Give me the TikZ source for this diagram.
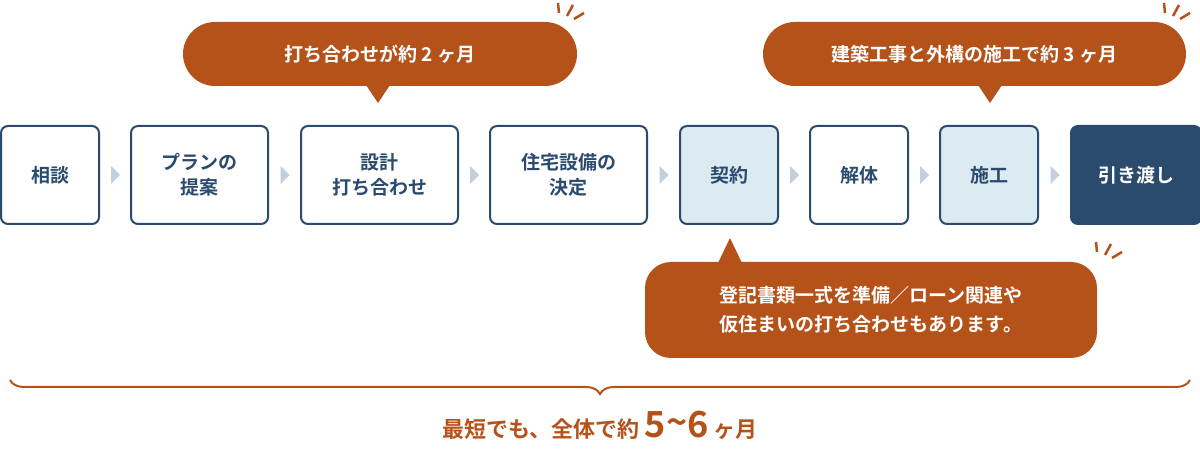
\documentclass[tikz,border=0pt]{standalone}
\usepackage{fontspec}
\setmainfont{Noto Sans CJK JP Bold}
\usetikzlibrary{positioning,calc,decorations.pathreplacing}
\definecolor{navy}{HTML}{2B4B6E}
\definecolor{paleblue}{HTML}{DCEAF2}
\definecolor{rust}{HTML}{B5521A}
\definecolor{arrowgray}{HTML}{C3CFDA}
\tikzstyle{stepbox} = [draw=navy, line width=2pt, rounded corners=7pt, fill=white,
  minimum height=98pt, text=navy, font=\fontsize{19}{25}\selectfont, align=center, inner sep=0pt]
\tikzstyle{pale} = [fill=paleblue]
\tikzstyle{dark} = [fill=navy, text=white]
\tikzstyle{bubble} = [fill=rust, draw=none]
\tikzstyle{btext} = [text=white, font=\fontsize{19}{29}\selectfont, align=center]
\tikzstyle{spark} = [draw=rust, line width=2.5pt]
\tikzstyle{pointer} = [fill=arrowgray, draw=none]

\begin{document}
\begin{tikzpicture}[x=1pt, y=-1pt]
  \useasboundingbox (0,0) rectangle (1200,462);

  % steps
  \node[stepbox, minimum width=98pt] (sodan) at (50,175) {相談};
  \node[stepbox, minimum width=137pt] (plan) at (199.5,175) {プランの\\提案};
  \node[stepbox, minimum width=157pt] (sekkei) at (379.5,175) {設計\\打ち合わせ};
  \node[stepbox, minimum width=157pt] (setsubi) at (568.5,175) {住宅設備の\\決定};
  \node[stepbox, pale, minimum width=98pt] (keiyaku) at (729,175) {契約};
  \node[stepbox, minimum width=98pt] (kaitai) at (859,175) {解体};
  \node[stepbox, pale, minimum width=98pt] (seko) at (989,175) {施工};
  \node[stepbox, dark, minimum width=130pt] (hikiwatashi) at (1136,175) {引き渡し};

  % small arrows between steps
  \foreach \a/\b in {sodan/plan, plan/sekkei, sekkei/setsubi, setsubi/keiyaku,
                     keiyaku/kaitai, kaitai/seko, seko/hikiwatashi}
    \path[pointer] ($(\a.east)!0.5!(\b.west)+(-4,-9)$) -- ++(9,9) -- ++(-9,9) -- cycle;

  % bubble 1
  \path[bubble, rounded corners=32pt] (183,22) rectangle (577,86);
  \path[bubble] (366,85) -- (378,103) -- (390,85) -- cycle;
  \node[btext] (b1) at (380,54) {打ち合わせが約 2 ヶ月};

  % bubble 2
  \path[bubble, rounded corners=32pt] (763,22) rectangle (1186,86);
  \path[bubble] (978,85) -- (990,103) -- (1002,85) -- cycle;
  \node[btext] (b2) at (974.5,54) {建築工事と外構の施工で約 3 ヶ月};

  % bubble 3
  \path[bubble, rounded corners=26pt] (645,262) rectangle (1097,358);
  \path[bubble] (718,263) -- (730,238) -- (742,263) -- cycle;
  \node[btext] (b3) at (871,310) {登記書類一式を準備／ローン関連や\\仮住まいの打ち合わせもあります。};

  % sparks
  \foreach \x/\y in {570/10, 1176/10, 1108/249} {
    \draw[spark] (\x-12,\y-7) -- (\x-11,\y+3);
    \draw[spark] (\x+3,\y-5) -- (\x-3,\y+6);
    \draw[spark] (\x+14,\y+3) -- (\x+4,\y+9);
  }

  % brace
  \coordinate (bl) at (10,380);
  \coordinate (br) at (1190,380);
  \draw[rust, line width=2pt, decorate, decoration={brace, mirror, amplitude=14pt}] (bl) -- (br);
  \node[text=rust, font=\fontsize{22}{26}\selectfont] (total) at (600,425)
    {最短でも、全体で約 {\fontsize{36}{40}\selectfont 5\raisebox{2pt}{\textasciitilde}6} ヶ月};
\end{tikzpicture}
\end{document}
